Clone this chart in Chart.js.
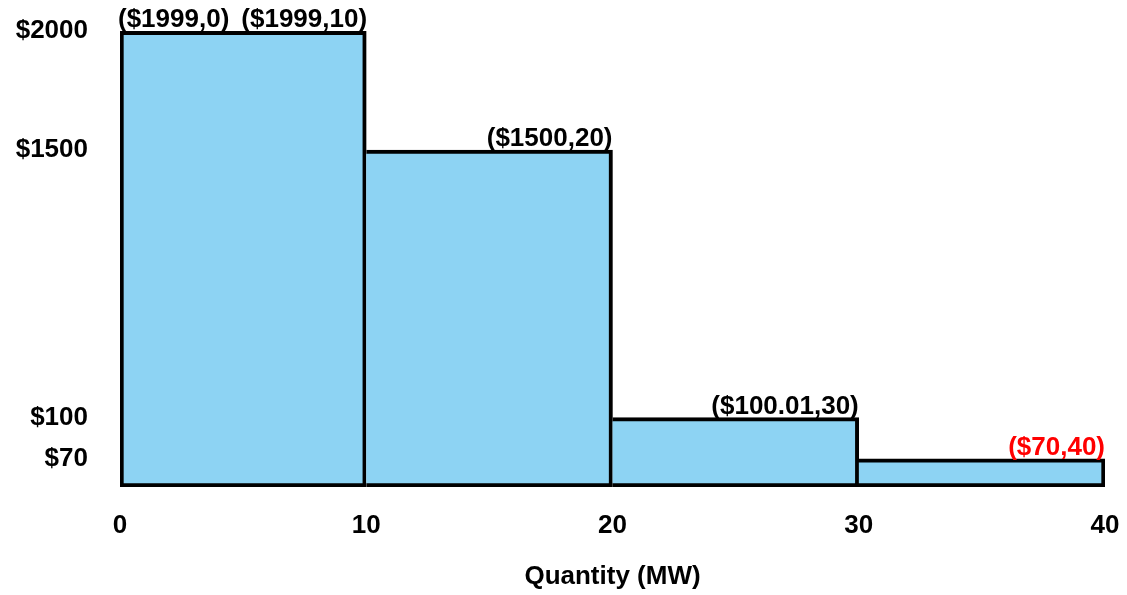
<!DOCTYPE html>
<html>
<head>
<meta charset="utf-8">
<title>Supply offer steps</title>
<script src="https://cdn.jsdelivr.net/npm/chart.js@4.4.1/dist/chart.umd.min.js"></script>
<style>
  body { margin: 0; background: #ffffff; }
  #wrap { width: 1127px; height: 595px; }
</style>
</head>
<body>
<div id="wrap"><canvas id="offerChart" width="1127" height="595"></canvas></div>
<script>
// offer blocks (MW ranges) and their prices
const blockStart = [0, 10, 20, 30];
const blockEnd = [10, 20, 30, 40];
const blockPrice = [1999, 1500, 100.01, 70];

// price axis
const priceTicks = [70, 100, 1500, 2000];
// the price axis is drawn schematic (not to scale): breakpoints and the share of height each one sits at
const priceBreaks = [0, 70, 100, 1500, 2000];
const breakShare = [0, 0.062, 0.152, 0.739, 1];

// quantity axis
const qtyTicks = [0, 10, 20, 30, 40];

// corner point labels
const pointText = ["($1999,0)", "($1999,10)", "($1500,20)", "($100.01,30)", "($70,40)"];
const pointQty = [0, 10, 20, 30, 40];
const pointPrice = [1999, 1999, 1500, 100.01, 70];
const pointColor = ["#000000", "#000000", "#000000", "#000000", "#ff0000"];

const FONT = "'Liberation Sans', Arial, sans-serif";
const FSIZE = 26;

function priceToShare(v) {
  for (let i = 1; i < priceBreaks.length; i++) {
    if (v <= priceBreaks[i]) {
      const t = (v - priceBreaks[i - 1]) / (priceBreaks[i] - priceBreaks[i - 1]);
      return breakShare[i - 1] + t * (breakShare[i] - breakShare[i - 1]);
    }
  }
  return 1;
}

function shareToPrice(s) {
  for (let i = 1; i < breakShare.length; i++) {
    if (s <= breakShare[i]) {
      const t = (s - breakShare[i - 1]) / (breakShare[i] - breakShare[i - 1]);
      return priceBreaks[i - 1] + t * (priceBreaks[i] - priceBreaks[i - 1]);
    }
  }
  return priceBreaks[priceBreaks.length - 1];
}

class SchematicPriceScale extends Chart.LinearScale {
  getPixelForValue(value) {
    return this.bottom - priceToShare(value) * (this.bottom - this.top);
  }
  getValueForPixel(pixel) {
    return shareToPrice((this.bottom - pixel) / (this.bottom - this.top));
  }
}
SchematicPriceScale.id = "schematicPrice";
SchematicPriceScale.defaults = Chart.LinearScale.defaults;
Chart.register(SchematicPriceScale);

// keep scales from pushing the plot area around
function noScalePadding(s) {
  s.paddingTop = 0;
  s.paddingBottom = 0;
  s.paddingLeft = 0;
  s.paddingRight = 0;
}

const pointLabels = {
  id: "pointLabels",
  afterDatasetsDraw(chart) {
    const { ctx, scales: { x, y } } = chart;
    ctx.save();
    ctx.font = "bold " + FSIZE + "px " + FONT;
    ctx.textBaseline = "alphabetic";
    let prevEnd = -Infinity;
    pointText.forEach((txt, i) => {
      const w = ctx.measureText(txt).width;
      const px = x.getPixelForValue(pointQty[i]);
      let left = i === 0 ? px - 2 : px - w;
      if (left < prevEnd + 12) left = prevEnd + 12;
      ctx.fillStyle = pointColor[i];
      ctx.textAlign = "left";
      ctx.fillText(txt, left, y.getPixelForValue(pointPrice[i]) - 4);
      prevEnd = left + w;
    });
    ctx.restore();
  }
};

const bars = blockPrice.map((p, i) => ({ x: (blockStart[i] + blockEnd[i]) / 2, y: p }));

new Chart(document.getElementById("offerChart"), {
  type: "bar",
  data: {
    datasets: [{
      data: bars,
      backgroundColor: "#8dd3f3",
      borderColor: "#000000",
      borderWidth: c => ({ top: 4, right: 4, bottom: 4, left: c.dataIndex === 0 ? 4 : 0 }),
      borderSkipped: false,
      barPercentage: 1,
      categoryPercentage: 1
    }]
  },
  options: {
    responsive: false,
    animation: false,
    layout: { padding: { top: 31, right: 22, left: 0, bottom: 0 } },
    plugins: {
      legend: { display: false },
      tooltip: { enabled: false }
    },
    scales: {
      x: {
        type: "linear",
        offset: false,
        min: 0,
        max: 40,
        afterBuildTicks: s => { s.ticks = qtyTicks.map(v => ({ value: v })); },
        afterFit: s => { s.height = 108; noScalePadding(s); },
        grid: { display: false, drawTicks: false },
        border: { display: false },
        ticks: {
          padding: 23,
          color: "#000000",
          font: { family: FONT, size: FSIZE, weight: "bold" },
          maxRotation: 0
        },
        title: {
          display: true,
          text: "Quantity (MW)",
          color: "#000000",
          padding: { top: 0, bottom: 3 },
          font: { family: FONT, size: FSIZE, weight: "bold" }
        }
      },
      y: {
        type: "schematicPrice",
        min: 0,
        max: 2000,
        afterBuildTicks: s => { s.ticks = priceTicks.map(v => ({ value: v })); },
        afterFit: s => { s.width = 120; noScalePadding(s); },
        grid: { display: false, drawTicks: false },
        border: { display: false },
        ticks: {
          padding: 32,
          color: "#000000",
          font: { family: FONT, size: FSIZE, weight: "bold" },
          callback: v => "$" + v
        }
      }
    }
  },
  plugins: [pointLabels]
});
</script>
</body>
</html>
